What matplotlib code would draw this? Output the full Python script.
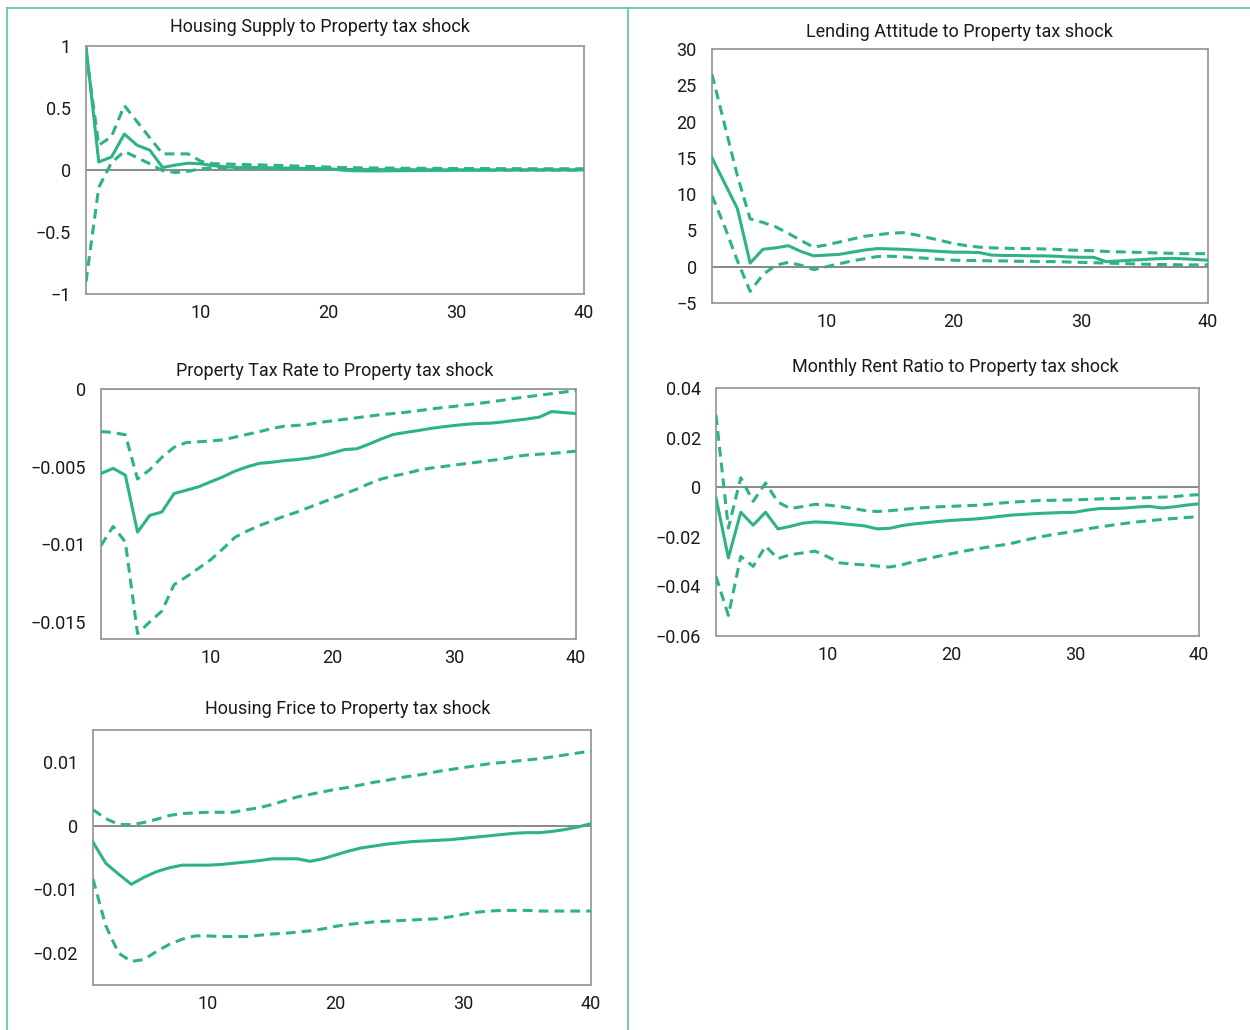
import matplotlib
matplotlib.use('Agg')
import matplotlib.pyplot as plt
from matplotlib.lines import Line2D
from matplotlib.ticker import FixedLocator, FuncFormatter

plt.rcParams['font.family'] = ['Roboto', 'DejaVu Sans']

GREEN = '#2db386'
FRAME = '#5cc4a0'
GRAY = '#9a9a9a'

periods = list(range(1, 41))

# Housing Supply
supply_mid = [1.0, 0.065, 0.105, 0.29, 0.20, 0.16, 0.02, 0.04, 0.055, 0.05,
              0.035, 0.025, 0.02, 0.02, 0.018, 0.016, 0.015, 0.013, 0.012, 0.01,
              0.0, -0.006, -0.007, -0.007, -0.006, -0.005, -0.004, -0.003, -0.003, -0.002,
              -0.002, -0.002, -0.001, -0.001, -0.001, 0.0, 0.0, 0.0, 0.0, 0.0]
supply_hi = [0.95, 0.20, 0.27, 0.52, 0.39, 0.26, 0.13, 0.13, 0.13, 0.07,
             0.05, 0.048, 0.045, 0.042, 0.04, 0.037, 0.034, 0.03, 0.027, 0.024,
             0.02, 0.018, 0.017, 0.016, 0.015, 0.014, 0.014, 0.013, 0.013, 0.012,
             0.012, 0.012, 0.011, 0.011, 0.011, 0.01, 0.01, 0.01, 0.01, 0.01]
supply_lo = [-0.90, -0.14, 0.06, 0.15, 0.10, 0.05, -0.005, -0.02, -0.01, 0.01,
             0.02, 0.018, 0.016, 0.014, 0.013, 0.011, 0.01, 0.009, 0.007, 0.006,
             0.004, 0.004, 0.003, 0.003, 0.002, 0.002, 0.002, 0.001, 0.001, 0.001,
             0.001, 0.0, 0.0, 0.0, 0.0, 0.0, 0.0, 0.0, 0.0, 0.0]

# Lending Attitude
lending_mid = [15.0, 11.5, 8.0, 0.5, 2.4, 2.6, 2.9, 2.1, 1.5, 1.6,
               1.7, 2.0, 2.3, 2.5, 2.45, 2.4, 2.3, 2.2, 2.1, 2.0,
               2.0, 1.95, 1.6, 1.55, 1.55, 1.5, 1.5, 1.45, 1.35, 1.3,
               1.3, 0.7, 0.8, 0.9, 1.0, 1.1, 1.15, 1.1, 1.0, 0.9]
lending_hi = [26.5, 19.5, 12.5, 6.6, 6.1, 5.5, 4.6, 3.6, 2.7, 3.0,
              3.4, 3.8, 4.2, 4.4, 4.6, 4.7, 4.4, 4.0, 3.6, 3.2,
              2.9, 2.7, 2.6, 2.55, 2.5, 2.5, 2.45, 2.4, 2.3, 2.25,
              2.2, 2.1, 2.05, 2.0, 1.95, 1.9, 1.85, 1.8, 1.8, 1.8]
lending_lo = [9.8, 5.5, 0.8, -3.4, -1.1, 0.2, 0.6, 0.2, -0.4, 0.0,
              0.4, 0.8, 1.1, 1.4, 1.45, 1.35, 1.25, 1.15, 1.0, 0.9,
              0.85, 0.85, 0.8, 0.8, 0.75, 0.75, 0.7, 0.7, 0.65, 0.6,
              0.55, 0.5, 0.45, 0.4, 0.35, 0.3, 0.3, 0.25, 0.25, 0.25]

# Property Tax Rate
taxrate_mid = [-0.00544, -0.00511, -0.00555, -0.00922, -0.00814, -0.00792, -0.00673, -0.00652, -0.0063, -0.00598,
               -0.00566, -0.00529, -0.00501, -0.00479, -0.00472, -0.00462, -0.00455, -0.00446, -0.00432, -0.00412,
               -0.0039, -0.00385, -0.00355, -0.00322, -0.00293, -0.0028, -0.00268, -0.00255, -0.00244, -0.00235,
               -0.00227, -0.00222, -0.0022, -0.00212, -0.00202, -0.00193, -0.00181, -0.00145, -0.00152, -0.00158]
taxrate_hi = [-0.00274, -0.0028, -0.00295, -0.0058, -0.0052, -0.0044, -0.00375, -0.00345, -0.0034, -0.00335,
              -0.00328, -0.0031, -0.00292, -0.00275, -0.00255, -0.0024, -0.00235, -0.00228, -0.00215, -0.00205,
              -0.00195, -0.00185, -0.00175, -0.00165, -0.00158, -0.0015, -0.0014, -0.0013, -0.0012, -0.00112,
              -0.00102, -0.00093, -0.00083, -0.00072, -0.0006, -0.0005, -0.0004, -0.0003, -0.0002, -0.0001]
taxrate_lo = [-0.01008, -0.00885, -0.00985, -0.01575, -0.015, -0.0143, -0.0126, -0.0121, -0.01155, -0.011,
              -0.0103, -0.00955, -0.00915, -0.0088, -0.0085, -0.0082, -0.00795, -0.00765, -0.00735, -0.00705,
              -0.00675, -0.00645, -0.0061, -0.0058, -0.0056, -0.00545, -0.00525, -0.0051, -0.005, -0.0049,
              -0.0048, -0.0047, -0.0046, -0.0045, -0.00435, -0.00425, -0.0042, -0.00415, -0.00408, -0.004]

# Monthly Rent Ratio
rent_mid = [-0.0043, -0.0285, -0.0101, -0.0153, -0.0101, -0.0168, -0.0158, -0.0145, -0.014, -0.0142,
            -0.0146, -0.0151, -0.0156, -0.0168, -0.0166, -0.0155, -0.0148, -0.0143, -0.0138, -0.0134,
            -0.0131, -0.0128, -0.0123, -0.0117, -0.0112, -0.0109, -0.0106, -0.0104, -0.0102, -0.0101,
            -0.0092, -0.0086, -0.0086, -0.0084, -0.008, -0.0077, -0.0084, -0.0079, -0.0072, -0.0067]
rent_hi = [0.029, -0.0165, 0.0038, -0.0057, 0.0017, -0.006, -0.0086, -0.0078, -0.0069, -0.0072,
           -0.0078, -0.0085, -0.0094, -0.0098, -0.0095, -0.009, -0.0085, -0.0082, -0.0079, -0.0077,
           -0.0075, -0.0073, -0.0069, -0.0064, -0.006, -0.0057, -0.0054, -0.0053, -0.0052, -0.0051,
           -0.0049, -0.0047, -0.0046, -0.0045, -0.0044, -0.0042, -0.004, -0.0038, -0.0033, -0.003]
rent_lo = [-0.036, -0.0517, -0.0279, -0.0319, -0.0238, -0.0288, -0.0272, -0.0265, -0.0258, -0.028,
           -0.0305, -0.031, -0.0313, -0.0318, -0.0322, -0.0313, -0.03, -0.0289, -0.0278, -0.0268,
           -0.0258, -0.0249, -0.0241, -0.0234, -0.0225, -0.0213, -0.0202, -0.0193, -0.0185, -0.0177,
           -0.0168, -0.016, -0.0153, -0.0146, -0.014, -0.0135, -0.013, -0.0126, -0.0122, -0.0119]

# Housing Price
price_mid = [-0.0026, -0.0059, -0.0076, -0.0092, -0.0081, -0.0072, -0.0066, -0.0062, -0.0062, -0.0062,
             -0.0061, -0.0059, -0.0057, -0.0055, -0.0052, -0.0052, -0.0052, -0.0056, -0.0052, -0.0046,
             -0.004, -0.0035, -0.0032, -0.0029, -0.0027, -0.0025, -0.0024, -0.0023, -0.0022, -0.002,
             -0.0018, -0.0016, -0.0014, -0.0012, -0.0011, -0.0011, -0.0009, -0.0006, -0.0002, 0.0003]
price_hi = [0.0025, 0.0011, 0.0002, 0.00015, 0.0005, 0.001, 0.0016, 0.0019, 0.002, 0.0021,
            0.0021, 0.0021, 0.0025, 0.0028, 0.0033, 0.0039, 0.0045, 0.0049, 0.0053, 0.0057,
            0.006, 0.0064, 0.0068, 0.0071, 0.0075, 0.0078, 0.0081, 0.0085, 0.0088, 0.0091,
            0.0094, 0.0097, 0.0099, 0.0101, 0.0103, 0.0105, 0.0108, 0.0111, 0.0114, 0.0117]
price_lo = [-0.0084, -0.0157, -0.02, -0.0213, -0.021, -0.0197, -0.0186, -0.0178, -0.0173, -0.0173,
            -0.0174, -0.0174, -0.0174, -0.0172, -0.017, -0.0169, -0.0167, -0.0165, -0.0162, -0.0158,
            -0.0155, -0.0153, -0.0151, -0.015, -0.0149, -0.0148, -0.0147, -0.0146, -0.0143, -0.0139,
            -0.0136, -0.0134, -0.0133, -0.0133, -0.0133, -0.0134, -0.0134, -0.0134, -0.0134, -0.0134]

W, H = 1250, 1030


def px_axes(fig, x0, y0, x1, y1):
    return fig.add_axes([x0 / W, 1 - y1 / H, (x1 - x0) / W, (y1 - y0) / H])


def fmt(v, pos):
    s = '{:g}'.format(round(v, 6))
    return s.replace('-', '\u2212')


def irf_panel(ax, mid, hi, lo, ylim, yticks):
    ax.axhline(0, color='#808080', lw=1.3, zorder=1)
    ax.plot(periods, hi, color=GREEN, lw=2.2, dashes=(3.2, 2.0), zorder=3)
    ax.plot(periods, lo, color=GREEN, lw=2.2, dashes=(3.2, 2.0), zorder=3)
    ax.plot(periods, mid, color=GREEN, lw=2.2, zorder=4)
    ax.set_xlim(1, 40)
    ax.set_ylim(*ylim)
    ax.xaxis.set_major_locator(FixedLocator([10, 20, 30, 40]))
    ax.yaxis.set_major_locator(FixedLocator(yticks))
    ax.yaxis.set_major_formatter(FuncFormatter(fmt))
    ax.tick_params(length=0, labelsize=13, colors='#1a1a1a')
    ax.tick_params(axis='y', pad=11)
    ax.tick_params(axis='x', pad=7)
    for sp in ax.spines.values():
        sp.set_color(GRAY)
        sp.set_linewidth(1.3)


fig = plt.figure(figsize=(12.5, 10.3), dpi=100)

ax1 = px_axes(fig, 86, 46, 584, 294)
irf_panel(ax1, supply_mid, supply_hi, supply_lo, (-1, 1), [-1, -0.5, 0, 0.5, 1])

ax2 = px_axes(fig, 712, 49, 1208, 303)
irf_panel(ax2, lending_mid, lending_hi, lending_lo, (-5, 30), [-5, 0, 5, 10, 15, 20, 25, 30])

ax3 = px_axes(fig, 101, 389, 576, 639)
irf_panel(ax3, taxrate_mid, taxrate_hi, taxrate_lo, (-0.0161, 0), [-0.015, -0.01, -0.005, 0])

ax4 = px_axes(fig, 716, 388, 1199, 636)
irf_panel(ax4, rent_mid, rent_hi, rent_lo, (-0.06, 0.04), [-0.06, -0.04, -0.02, 0, 0.02, 0.04])

ax5 = px_axes(fig, 93, 730, 591, 985)
irf_panel(ax5, price_mid, price_hi, price_lo, (-0.025, 0.015), [-0.02, -0.01, 0, 0.01])

titles = [
    ('Housing Supply to Property tax shock', 320, 27),
    ('Lending Attitude to Property tax shock', 959, 32),
    ('Property Tax Rate to Property tax shock', 335, 371),
    ('Monthly Rent Ratio to Property tax shock', 955, 367),
    ('Housing Frice to Property tax shock', 348, 709),
]
for text, tx, ty in titles:
    fig.text(tx / W, 1 - ty / H, text, ha='center', va='center', fontsize=13, color='#1a1a1a')

# green frame lines
fig.add_artist(Line2D([7 / W, 7 / W], [0, 1 - 8 / H], color=FRAME, lw=1.2))
fig.add_artist(Line2D([7 / W, 1], [1 - 8 / H, 1 - 8 / H], color=FRAME, lw=1.2))
fig.add_artist(Line2D([628 / W, 628 / W], [0, 1 - 8 / H], color=FRAME, lw=1.2))

fig.savefig('out.png', dpi=100)
